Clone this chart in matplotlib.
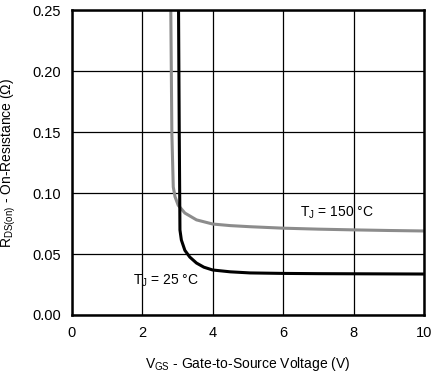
import matplotlib
matplotlib.use('Agg')
import matplotlib.pyplot as plt

plt.rcParams['font.family'] = ['Liberation Sans', 'DejaVu Sans']
plt.rcParams['mathtext.default'] = 'regular'

# Tj = 25 C curve (black)
vgs_25 = [3.03, 3.05, 3.07, 3.11, 3.21, 3.35, 3.54, 3.75, 4.0, 4.5, 5.06, 6.0, 7.0, 8.0, 9.0, 10.0]
rds_25 = [0.25, 0.15, 0.0697, 0.0615, 0.053, 0.0475, 0.0426, 0.0392, 0.0369, 0.0354, 0.0345, 0.0341, 0.0339, 0.0338, 0.0337, 0.0336]

# Tj = 150 C curve (gray)
vgs_150 = [2.81, 2.84, 2.88, 2.93, 3.02, 3.21, 3.54, 4.0, 4.5, 5.06, 6.0, 7.0, 8.0, 9.0, 10.0]
rds_150 = [0.25, 0.149, 0.105, 0.097, 0.090, 0.0836, 0.078, 0.0746, 0.0733, 0.0724, 0.0712, 0.0704, 0.0698, 0.0693, 0.0689]

x_ticks = [0, 2, 4, 6, 8, 10]
y_ticks = [0.00, 0.05, 0.10, 0.15, 0.20, 0.25]

fig = plt.figure(figsize=(4.33, 3.75), dpi=100)
ax = fig.add_axes([0.166, 0.16, 0.813, 0.813])

ax.plot(vgs_150, rds_150, color='#8c8c8c', lw=2.2, solid_capstyle='butt')
ax.plot(vgs_25, rds_25, color='black', lw=2.2, solid_capstyle='butt')

ax.set_xlim(0, 10)
ax.set_ylim(0, 0.25)
ax.set_xticks(x_ticks)
ax.set_yticks(y_ticks)
ax.set_yticklabels([f'{v:.2f}' for v in y_ticks])
ax.grid(True, color='black', lw=0.9)
ax.tick_params(length=0, labelsize=10.5, pad=8)
for s in ax.spines.values():
    s.set_linewidth(1.8)

ax.text(6.48, 0.0836, r'T$_J$ = 150 °C', fontsize=10, va='center', ha='left')
ax.text(1.73, 0.028, r'T$_J$ = 25 °C', fontsize=10, va='center', ha='left')

ax.set_xlabel(r'V$_{GS}$ - Gate-to-Source Voltage (V)', fontsize=10, labelpad=11)
ax.set_ylabel(r'R$_{DS(on)}$ - On-Resistance ($\Omega$)', fontsize=10, labelpad=10)

fig.savefig('out.png', dpi=100)
